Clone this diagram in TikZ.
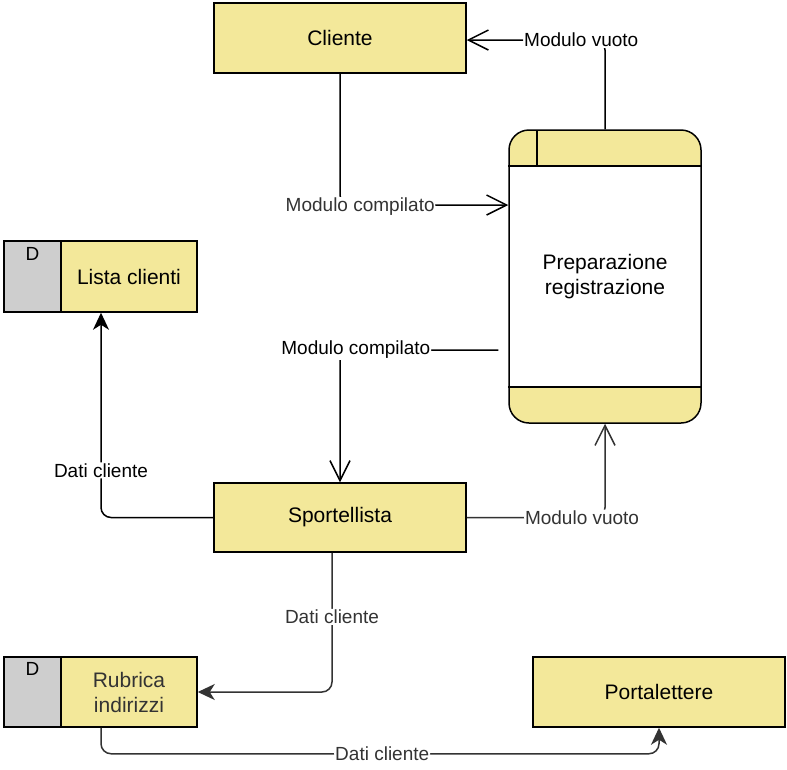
\documentclass[tikz,border=0pt]{standalone}
\usepackage{fontspec}
\setmainfont{Liberation Sans}
\usetikzlibrary{arrows.meta}
\definecolor{dfdyellow}{HTML}{F3E89A}
\definecolor{dfdgray}{HTML}{CECECE}
\definecolor{dfdtext}{HTML}{333333}
\tikzset{
  ent/.style={draw=black, line width=1.5pt, fill=dfdyellow, font=\fontsize{21}{25}\selectfont, align=center, inner sep=0pt},
  storeD/.style={draw=black, line width=1.5pt, fill=dfdgray, inner sep=0pt},
  flow/.style={line width=1.5pt, rounded corners=10pt},
  openarr/.style={-{Straight Barb[length=20pt,width=20pt,line width=1.5pt]}},
  fillarr/.style={-{Stealth[length=17pt,width=16pt,inset=5pt]}},
  lbl/.style={fill=white, inner sep=1pt, font=\fontsize{19}{22}\selectfont},
  lblg/.style={lbl, text=dfdtext}
}
\begin{document}
\begin{tikzpicture}[x=1pt,y=-1pt]
\useasboundingbox (0,0) rectangle (787,769);
% Cliente
\node[ent, minimum width=252pt, minimum height=70pt] (cliente) at (340,38) {Cliente};
% Sportellista
\node[ent, minimum width=252pt, minimum height=69pt] (sport) at (340,517.5) {Sportellista};
% Portalettere
\node[ent, minimum width=252pt, minimum height=70pt] (portal) at (659,692) {Portalettere};
% Lista clienti (data store)
\node[storeD, minimum width=57pt, minimum height=71pt] (listaD) at (32.5,276.5) {};
\node[font=\fontsize{19}{22}\selectfont, inner sep=0pt] (listaDt) at (32.5,254) {D};
\node[ent, minimum width=136pt, minimum height=71pt] (lista) at (129,276.5) {Lista clienti};
% Rubrica indirizzi (data store)
\node[storeD, minimum width=57pt, minimum height=70pt] (rubD) at (32.5,692) {};
\node[font=\fontsize{19}{22}\selectfont, inner sep=0pt] (rubDt) at (32.5,669) {D};
\node[ent, text=dfdtext, minimum width=136pt, minimum height=70pt] (rub) at (129,692) {Rubrica\\indirizzi};
% Preparazione registrazione (process)
\begin{scope}
  \clip[rounded corners=20pt] (509,130) rectangle (701,423);
  \fill[white] (509,130) rectangle (701,423);
  \fill[dfdyellow] (509,130) rectangle (701,166);
  \fill[dfdyellow] (509,387) rectangle (701,423);
\end{scope}
\node[draw=black, line width=1.5pt, rounded corners=20pt, minimum width=192pt, minimum height=293pt, inner sep=0pt, align=center, font=\fontsize{21}{25}\selectfont] (prep) at (605,276.5) {Preparazione\\registrazione};
\draw[line width=1.5pt] (prep.west |- 0,166) -- (prep.east |- 0,166);
\draw[line width=1.5pt] (prep.west |- 0,387) -- (prep.east |- 0,387);
\draw[line width=1.5pt] (537,130) -- (537,166);
% Connectors
\draw[flow, openarr] (prep.north) |- ([yshift=-2pt]cliente.east)
  node[lbl, pos=0.586] {Modulo vuoto};
\draw[flow, openarr] (cliente.south) |- ([yshift=71.5pt]prep.west)
  node[lblg, pos=0.56, yshift=-2pt] {Modulo compilato};
\draw[flow, openarr] ([xshift=-10pt,yshift=-73.5pt]prep.west) -| (sport.north)
  node[lbl, pos=0.45] {Modulo compilato};
\draw[flow, fillarr] (sport.west) -| ([xshift=-28pt]lista.south)
  node[lbl, pos=0.615] {Dati cliente};
\draw[flow, openarr, draw=dfdtext] (sport.east) -| (prep.south)
  node[lblg, pos=0.417] {Modulo vuoto};
\draw[flow, fillarr, draw=dfdtext] ([xshift=-8pt]sport.south) |- (rub.east)
  node[lblg, pos=0.23] {Dati cliente};
\draw[flow, fillarr, draw=dfdtext] ([xshift=-28pt]rub.south) -- ++(0,26) -| (portal.south)
  node[lblg, pos=0.252] {Dati cliente};
\end{tikzpicture}
\end{document}
